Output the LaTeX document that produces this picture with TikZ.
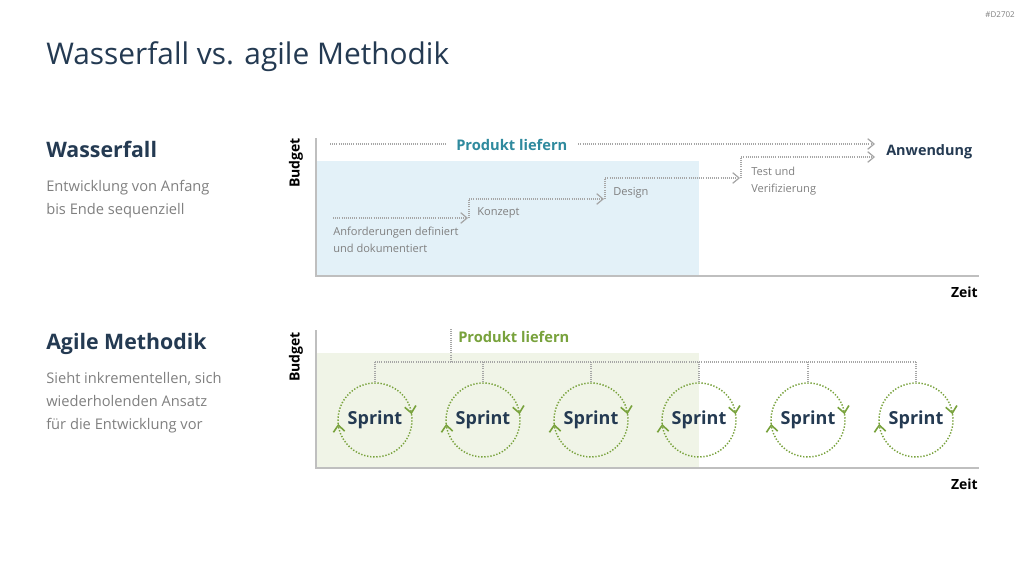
\documentclass[tikz,border=0pt]{standalone}
\usepackage{fontspec}
\setmainfont{Open Sans}
\usetikzlibrary{arrows.meta}
\definecolor{navy}{HTML}{243A52}
\definecolor{txtgray}{HTML}{808080}
\definecolor{axisgray}{HTML}{BFBFBF}
\definecolor{dotgray}{HTML}{A6A6A6}
\definecolor{teal}{HTML}{2F8A9E}
\definecolor{lgreen}{HTML}{78A23C}
\definecolor{lightblue}{HTML}{E3F1F8}
\definecolor{lightgreen}{HTML}{F0F4E7}
\tikzset{
  title/.style={anchor=base west, inner sep=0pt, font=\fontsize{22.4}{26}\selectfont, text=navy},
  head/.style={anchor=base west, inner sep=0pt, font=\bfseries\fontsize{16}{19}\selectfont, text=navy},
  body/.style={anchor=base west, inner sep=0pt, font=\fontsize{11}{17}\selectfont, text=txtgray},
  small/.style={anchor=base west, inner sep=0pt, font=\fontsize{8.3}{12.75}\selectfont, text=txtgray, align=left},
  axlabel/.style={inner sep=0pt, font=\bfseries\fontsize{10.5}{12}\selectfont, text=black},
  prod/.style={anchor=base west, inner sep=0pt, font=\bfseries\fontsize{11}{14}\selectfont},
  axisline/.style={draw=axisgray, line width=1pt},
  gdot/.style={draw=dotgray, line width=0.8pt, dash pattern=on 0.7pt off 0.9pt},
  garrow/.style={gdot, -{Straight Barb[length=4.8pt,width=8pt,line width=0.9pt]}},
  greencirc/.style={draw=lgreen, line width=1.1pt, dash pattern=on 1pt off 1.3pt,
     -{Straight Barb[length=5pt,width=8.5pt,line width=1.2pt]}},
  sprint/.style={circle, minimum size=55.5pt, inner sep=0pt, outer sep=0pt,
     font=\bfseries\fontsize{13.5}{16}\selectfont, text=navy},
}
\begin{document}
\begin{tikzpicture}[x=0.75pt,y=-0.75pt]
\useasboundingbox (0,0) rectangle (1024,576);
\fill[white] (0,0) rectangle (1024,576);

% header
\node[anchor=base east, inner sep=0pt, font=\fontsize{6}{7}\selectfont, text=txtgray] (code) at (1015,17) {\#D2702};
\node[title] (title) at (46,64) {Wasserfall vs. agile Methodik};

% left texts
\node[head] (wf) at (46,157) {Wasserfall};
\node[body] (wf1) at (46,191) {Entwicklung von Anfang};
\node[body] (wf2) at (46,214) {bis Ende sequenziell};
\node[head] (ag) at (46,349) {Agile Methodik};
\node[body] (ag1) at (46,383) {Sieht inkrementellen, sich};
\node[body] (ag2) at (46,406) {wiederholenden Ansatz};
\node[body] (ag3) at (46,429) {für die Entwicklung vor};

% ===== top chart =====
\fill[lightblue] (316,161) rectangle (699,276);
\draw[axisline] (316,138) -- (316,276) -- (979,276);
\node[axlabel, rotate=90] (bud1) at (296,163) {Budget};
\node[axlabel, anchor=base east] (zeit1) at (978,297) {Zeit};

\node[prod, text=teal] (pl1) at (456,150) {Produkt liefern};
\node[anchor=base west, inner sep=0pt, font=\bfseries\fontsize{10.8}{14}\selectfont, text=navy] (anw) at (886,155) {Anwendung};

\coordinate (p0) at (330,144);
\coordinate (p1) at (875,144);
\draw[gdot] (p0) -- ([xshift=-8pt]pl1.west |- p0);
\draw[garrow] ([xshift=8pt]pl1.east |- p0) -- (p1);

\node[small] (anf) at (333,235) {Anforderungen definiert};
\node[small] (anf2) at (333,252) {und dokumentiert};
\node[small] (konz) at (477,215) {Konzept};
\node[small] (des) at (613,195) {Design};
\node[small] (test) at (751,175) {Test und};
\node[small] (test2) at (751,192) {Verifizierung};

\coordinate (s0) at (333,218);
\coordinate (s1) at (469,218);
\coordinate (s2) at (605,199);
\coordinate (s3) at (741,178);
\coordinate (s4) at (875,157);
\draw[garrow] (s0) -- ([xshift=-0.75pt]s1);
\draw[garrow] (s1) -- (s1 |- s2) -- ([xshift=-0.75pt]s2);
\draw[garrow] (s2) -- (s2 |- s3) -- ([xshift=-0.75pt]s3);
\draw[garrow] (s3) -- (s3 |- s4) -- (s4);

% ===== bottom chart =====
\fill[lightgreen] (316,353) rectangle (699,468);
\draw[axisline] (316,330) -- (316,468) -- (979,468);
\node[axlabel, rotate=90] (bud2) at (296,357) {Budget};
\node[axlabel, anchor=base east] (zeit2) at (978,489) {Zeit};

\node[prod, text=lgreen] (pl2) at (458,342) {Produkt liefern};

\coordinate (top) at (451,329);
\coordinate (busL) at (375,362);
\coordinate (busR) at (916,362);
\draw[gdot] (top) -- (top |- busL);
\draw[gdot] (busL) -- (busR);

\foreach \i/\xx in {1/375,2/483,3/591,4/699,5/808,6/916}{
  \node[sprint] (c\i) at (\xx,420) {Sprint};
  \draw[gdot] (c\i.north |- busL) -- (c\i.north);
  \draw[greencirc] (c\i.186) arc[start angle=-186, end angle=-9, radius=37];
  \draw[greencirc] (c\i.9) arc[start angle=-9, end angle=174, radius=37];
}
\end{tikzpicture}
\end{document}
